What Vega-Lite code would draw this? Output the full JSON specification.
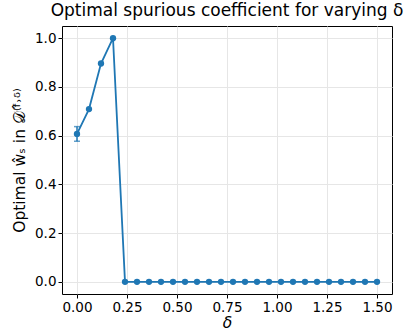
{
  "$schema": "https://vega.github.io/schema/vega-lite/v6.json",
  "autosize": {"type": "none"},
  "width": 330,
  "height": 268,
  "padding": {"left": 62, "top": 26, "right": 16, "bottom": 39},
  "background": "white",
  "config": {
    "font": "DejaVu Sans",
    "view": {"stroke": "black", "strokeWidth": 1},
    "axis": {
      "domain": false,
      "grid": true,
      "gridColor": "#e6e6e6",
      "gridWidth": 1,
      "tickColor": "black",
      "tickSize": 4,
      "labelFont": "DejaVu Sans",
      "labelFontSize": 13.5,
      "labelColor": "black",
      "titleFont": "DejaVu Sans",
      "titleFontSize": 15.5,
      "titleFontWeight": "normal",
      "titleColor": "black"
    },
    "title": {"font": "DejaVu Sans", "fontSize": 17, "fontWeight": "normal", "color": "black"}
  },
  "title": {"text": "Optimal spurious coefficient for varying δ", "offset": 6},
  "data": {
    "values": [
      {"delta": 0.00, "w": 0.607, "lo": 0.577, "hi": 0.637},
      {"delta": 0.06, "w": 0.709},
      {"delta": 0.12, "w": 0.896},
      {"delta": 0.18, "w": 1.0},
      {"delta": 0.24, "w": 0.0},
      {"delta": 0.30, "w": 0.0},
      {"delta": 0.36, "w": 0.0},
      {"delta": 0.42, "w": 0.0},
      {"delta": 0.48, "w": 0.0},
      {"delta": 0.54, "w": 0.0},
      {"delta": 0.60, "w": 0.0},
      {"delta": 0.66, "w": 0.0},
      {"delta": 0.72, "w": 0.0},
      {"delta": 0.78, "w": 0.0},
      {"delta": 0.84, "w": 0.0},
      {"delta": 0.90, "w": 0.0},
      {"delta": 0.96, "w": 0.0},
      {"delta": 1.02, "w": 0.0},
      {"delta": 1.08, "w": 0.0},
      {"delta": 1.14, "w": 0.0},
      {"delta": 1.20, "w": 0.0},
      {"delta": 1.26, "w": 0.0},
      {"delta": 1.32, "w": 0.0},
      {"delta": 1.38, "w": 0.0},
      {"delta": 1.44, "w": 0.0},
      {"delta": 1.50, "w": 0.0}
    ]
  },
  "encoding": {
    "x": {
      "field": "delta",
      "type": "quantitative",
      "scale": {"domain": [-0.075, 1.575], "nice": false, "zero": false},
      "axis": {"values": [0, 0.25, 0.5, 0.75, 1.0, 1.25, 1.5], "format": ".2f", "title": "δ", "titleFontStyle": "italic", "titlePadding": 2}
    }
  },
  "layer": [
    {
      "mark": {"type": "line", "color": "#1f77b4", "strokeWidth": 1.8},
      "encoding": {
        "y": {
          "field": "w",
          "type": "quantitative",
          "scale": {"domain": [-0.05, 1.05], "nice": false, "zero": false},
          "axis": {"values": [0, 0.2, 0.4, 0.6, 0.8, 1.0], "format": ".1f", "title": "Optimal ŵₛ in 𝒟⁽ᶠ̂˒ᵟ⁾", "titlePadding": 7}
        }
      }
    },
    {
      "transform": [{"filter": "isValid(datum.lo)"}],
      "mark": {"type": "rule", "color": "#1f77b4", "strokeWidth": 1.5},
      "encoding": {"y": {"field": "lo", "type": "quantitative"}, "y2": {"field": "hi"}}
    },
    {
      "transform": [{"filter": "isValid(datum.lo)"}, {"fold": ["lo", "hi"], "as": ["end", "cap"]}],
      "mark": {"type": "tick", "color": "#1f77b4", "orient": "horizontal", "size": 6, "thickness": 1.5},
      "encoding": {"y": {"field": "cap", "type": "quantitative"}}
    },
    {
      "mark": {"type": "point", "filled": true, "color": "#1f77b4", "size": 40, "opacity": 1},
      "encoding": {"y": {"field": "w", "type": "quantitative"}}
    }
  ]
}
